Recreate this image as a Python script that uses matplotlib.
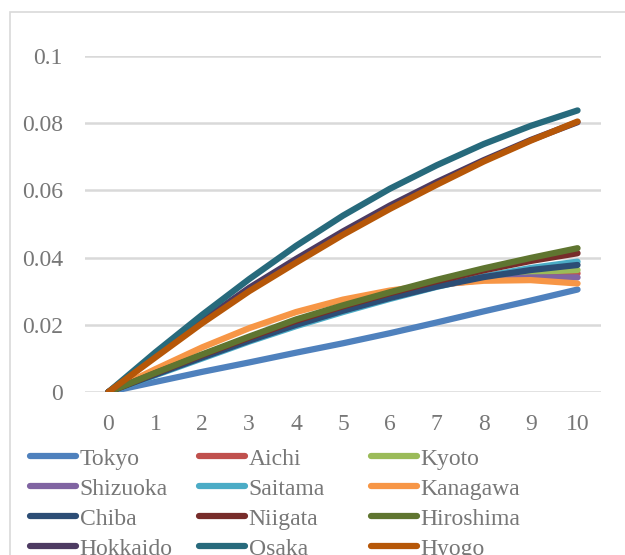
import matplotlib
matplotlib.use("Agg")
import matplotlib.pyplot as plt
import matplotlib.ticker as mticker
from matplotlib.lines import Line2D
from matplotlib.patches import Rectangle

# ── DATA ──────────────────────────────────────────────────────────────────────
years = [0, 1, 2, 3, 4, 5, 6, 7, 8, 9, 10]

prefectures = ["Tokyo", "Aichi", "Kyoto", "Shizuoka", "Saitama", "Kanagawa",
               "Chiba", "Niigata", "Hiroshima", "Hokkaido", "Osaka", "Hyogo"]

tokyo     = [0, 0.0030, 0.0060, 0.0088, 0.0117, 0.0145, 0.0175, 0.0207, 0.0240, 0.0272, 0.0305]
aichi     = [0, 0.0055, 0.0108, 0.0160, 0.0208, 0.0250, 0.0288, 0.0318, 0.0338, 0.0349, 0.0353]
kyoto     = [0, 0.0054, 0.0107, 0.0158, 0.0206, 0.0248, 0.0287, 0.0320, 0.0343, 0.0357, 0.0363]
shizuoka  = [0, 0.0056, 0.0110, 0.0162, 0.0212, 0.0254, 0.0290, 0.0318, 0.0334, 0.0341, 0.0341]
saitama   = [0, 0.0050, 0.0100, 0.0150, 0.0196, 0.0238, 0.0277, 0.0313, 0.0344, 0.0369, 0.0388]
kanagawa  = [0, 0.0068, 0.0133, 0.0190, 0.0238, 0.0275, 0.0302, 0.0320, 0.0331, 0.0333, 0.0323]
chiba     = [0, 0.0052, 0.0103, 0.0153, 0.0200, 0.0242, 0.0280, 0.0314, 0.0342, 0.0363, 0.0378]
niigata   = [0, 0.0056, 0.0110, 0.0162, 0.0212, 0.0255, 0.0294, 0.0330, 0.0362, 0.0390, 0.0413]
hiroshima = [0, 0.0057, 0.0112, 0.0165, 0.0216, 0.0258, 0.0297, 0.0334, 0.0368, 0.0399, 0.0428]
hokkaido  = [0, 0.0107, 0.0212, 0.0310, 0.0396, 0.0478, 0.0555, 0.0625, 0.0690, 0.0750, 0.0803]
osaka     = [0, 0.0118, 0.0230, 0.0336, 0.0435, 0.0525, 0.0605, 0.0675, 0.0738, 0.0792, 0.0838]
hyogo     = [0, 0.0103, 0.0205, 0.0300, 0.0385, 0.0468, 0.0545, 0.0617, 0.0686, 0.0748, 0.0805]

series = [tokyo, aichi, kyoto, shizuoka, saitama, kanagawa,
          chiba, niigata, hiroshima, hokkaido, osaka, hyogo]

colors = ["#4F81BD", "#C0504D", "#9BBB59", "#8064A2", "#4BACC6", "#F79646",
          "#2C4D75", "#772C2A", "#5F7530", "#4D3B62", "#276A7C", "#B65708"]

yticks = [0, 0.02, 0.04, 0.06, 0.08, 0.1]

# ── STYLE ─────────────────────────────────────────────────────────────────────
TEXT = "#777777"
GRID = "#D9D9D9"
FS = 17
LW = 4.5
plt.rcParams["font.family"] = ["Liberation Serif", "DejaVu Serif"]

W, H = 625, 555
fig = plt.figure(figsize=(W / 100, H / 100), dpi=100)

# chart frame running off the right and bottom edges
fig.add_artist(Rectangle((10 / W, -0.5), 2, 0.5 + 1 - 12 / H,
                         transform=fig.transFigure, fill=False,
                         edgecolor=GRID, linewidth=1.2))

ax = fig.add_axes([85 / W, 1 - 392 / H, (601 - 85) / W, (392 - 56) / H])

for vals, col in zip(series, colors):
    ax.plot(years, vals, color=col, linewidth=LW,
            solid_capstyle="round", solid_joinstyle="round")

ax.set_xlim(-0.5, 10.5)
ax.set_ylim(0, 0.1)
ax.set_xticks(years)
ax.set_yticks(yticks)
ax.yaxis.set_major_formatter(mticker.FuncFormatter(lambda v, _: f"{v:g}"))
ax.grid(axis="y", color=GRID, linewidth=1.8)
ax.set_axisbelow(True)
ax.tick_params(axis="both", length=0, labelsize=FS, labelcolor=TEXT)
ax.tick_params(axis="x", pad=16)
ax.tick_params(axis="y", pad=16)
for s in ax.spines.values():
    s.set_visible(False)

# legend laid out in three fixed-width columns
col_x = [30, 199, 371]
for c in range(3):
    handles = [Line2D([0], [0], color=colors[i], linewidth=LW,
                      solid_capstyle="round")
               for i in range(c, len(prefectures), 3)]
    labels = [prefectures[i] for i in range(c, len(prefectures), 3)]
    fig.legend(handles, labels, loc="upper left",
               bbox_to_anchor=(col_x[c] / W, 1 - 448 / H),
               bbox_transform=fig.transFigure,
               frameon=False, fontsize=FS, labelcolor=TEXT,
               handlelength=1.95, handletextpad=0.15,
               labelspacing=0.36, borderpad=0, borderaxespad=0)

fig.savefig("out.png", dpi=100)
